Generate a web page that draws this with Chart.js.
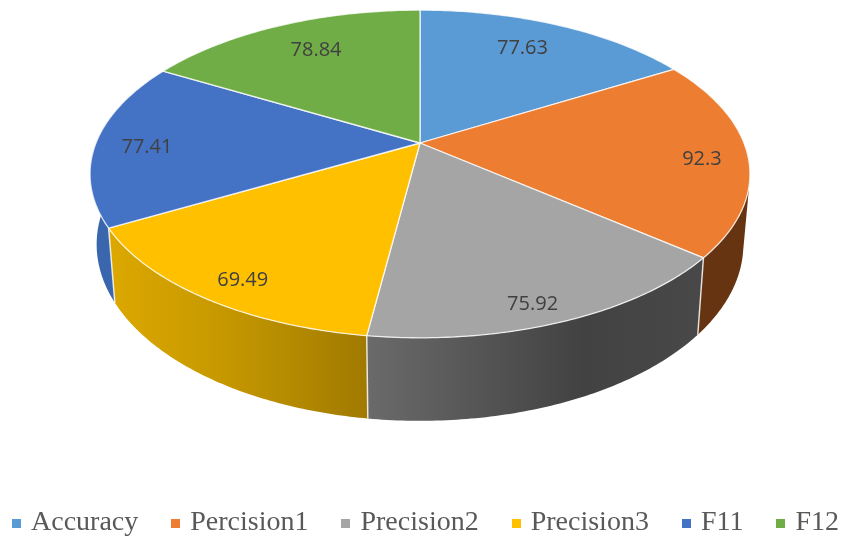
<!DOCTYPE html>
<html>
<head>
<meta charset="utf-8">
<script src="https://cdn.jsdelivr.net/npm/chart.js@4/dist/chart.umd.min.js"></script>
<style>
  html, body { margin: 0; padding: 0; background: #fff; overflow: hidden; }
  /* canvas is a bit bigger than the window so the legend row fits on one line */
  canvas { display: block; margin-left: -40px; }
</style>
</head>
<body>
<canvas id="mycanvas" width="935" height="547"></canvas>
<script>
var categories = ["Accuracy", "Percision1", "Precision2", "Precision3", "F11", "F12"];
var values = [77.63, 92.3, 75.92, 69.49, 77.41, 78.84];
var colors = ["#5b9bd5", "#ed7d31", "#a5a5a5", "#ffc000", "#4472c4", "#70ad47"];

// where each value label sits inside its slice
var labelReach = [0.77, 0.86, 0.90, 0.88, 0.84, 0.76];
var labelTurn = [-2, 1.7, 2.4, -1.9, -1.5, 1.7];

// perspective of the disc
var shiftX = 40;
var apexX = 420 + shiftX, apexY = 143, scaleX = 324, scaleY = 158, tilt = 0.189;

function project(theta, r) {
    var x = Math.sin(theta) * r;
    var y = -Math.cos(theta) * r;
    var w = 1 - tilt * y;
    return { x: scaleX * x / w, y: scaleY * y / w };
}
function topPoint(theta, r) {
    var p = project(theta, r);
    return { x: apexX + p.x, y: apexY + p.y };
}
function bottomPoint(theta) {
    var p = project(theta, 1);
    return { x: apexX + p.x * 0.98, y: apexY + p.y * 1.077 + 68 };
}

function wallStyle(ctx, i) {
    var g;
    if (i == 2) {
        g = ctx.createLinearGradient(368 + shiftX, 0, 697 + shiftX, 0);
        g.addColorStop(0, "#6a6a6a");
        g.addColorStop(0.65, "#424242");
        g.addColorStop(1, "#484848");
        return g;
    }
    if (i == 3) {
        g = ctx.createLinearGradient(110 + shiftX, 0, 368 + shiftX, 0);
        g.addColorStop(0, "#dca800");
        g.addColorStop(0.4, "#c89a00");
        g.addColorStop(1, "#a07a00");
        return g;
    }
    if (i == 1) return "#663410";
    if (i == 4) return "#3a66ad";
    return colors[i];
}

// legend marker: small square, wider than the slot the legend keeps for it
function legendMark(color) {
    var c = document.createElement("canvas");
    c.width = 9;
    c.height = 9;
    var g = c.getContext("2d");
    g.fillStyle = color;
    g.fillRect(0, 0, 9, 9);
    return c;
}

var pie3d = {
    id: "pie3d",
    beforeDatasetsDraw: function(chart) {
        var ctx = chart.ctx;
        var arcs = chart.getDatasetMeta(0).data;
        var wallFrom = 103 * Math.PI / 180;
        var wallTo = 280 * Math.PI / 180;
        var i, k, n = 80;

        // side walls
        for (i = 0; i < arcs.length; i++) {
            var a = Math.max(arcs[i].startAngle + Math.PI / 2, wallFrom);
            var b = Math.min(arcs[i].endAngle + Math.PI / 2, wallTo);
            if (b <= a) continue;
            ctx.beginPath();
            for (k = 0; k <= n; k++) {
                var p = topPoint(a + (b - a) * k / n, 1);
                if (k == 0) ctx.moveTo(p.x, p.y); else ctx.lineTo(p.x, p.y);
            }
            for (k = n; k >= 0; k--) {
                var q = bottomPoint(a + (b - a) * k / n);
                ctx.lineTo(q.x, q.y);
            }
            ctx.closePath();
            ctx.fillStyle = wallStyle(ctx, i);
            ctx.fill();
        }

        // vertical seams between the walls
        ctx.strokeStyle = "rgba(255,255,255,0.8)";
        ctx.lineWidth = 1.5;
        for (i = 0; i < arcs.length; i++) {
            var e = arcs[i].endAngle + Math.PI / 2;
            if (e <= wallFrom || e >= wallTo) continue;
            var t = topPoint(e, 1), u = bottomPoint(e);
            ctx.beginPath();
            ctx.moveTo(t.x, t.y);
            ctx.lineTo(u.x, u.y);
            ctx.stroke();
        }

        // top faces
        for (i = 0; i < arcs.length; i++) {
            var s0 = arcs[i].startAngle + Math.PI / 2;
            var s1 = arcs[i].endAngle + Math.PI / 2;
            ctx.beginPath();
            ctx.moveTo(apexX, apexY);
            for (k = 0; k <= n; k++) {
                var f = topPoint(s0 + (s1 - s0) * k / n, 1);
                ctx.lineTo(f.x, f.y);
            }
            ctx.closePath();
            ctx.fillStyle = colors[i];
            ctx.fill();
            ctx.strokeStyle = "rgba(255,255,255,0.8)";
            ctx.lineWidth = 1.3;
            ctx.lineJoin = "round";
            ctx.stroke();
        }

        // value labels
        ctx.font = "20px 'Open Sans'";
        ctx.fillStyle = "#404040";
        ctx.textAlign = "center";
        ctx.textBaseline = "middle";
        for (i = 0; i < arcs.length; i++) {
            var mid = (arcs[i].startAngle + arcs[i].endAngle) / 2 + Math.PI / 2 + labelTurn[i] * Math.PI / 180;
            var l = topPoint(mid, labelReach[i]);
            ctx.fillText(String(values[i]), l.x, l.y + 1);
        }
        return false;
    }
};

var chartdata = {
    labels: categories,
    datasets: [
        {
            data: values,
            backgroundColor: colors,
            borderWidth: 0
        }
    ]
};

var ctx = document.getElementById("mycanvas");

var GenericGraph = new Chart(ctx, {
    type: "pie",
    data: chartdata,
    plugins: [pie3d],
    options: {
        responsive: false,
        animation: false,
        plugins: {
            tooltip: { enabled: false },
            legend: {
                position: "bottom",
                labels: {
                    usePointStyle: true,
                    pointStyleWidth: 1,
                    boxHeight: 9,
                    padding: 37,
                    color: "#595959",
                    font: { family: "'Liberation Serif'", size: 28 },
                    generateLabels: function(chart) {
                        return categories.map(function(name, i) {
                            return {
                                text: name,
                                index: i,
                                fontColor: "#595959",
                                fillStyle: colors[i],
                                strokeStyle: colors[i],
                                lineWidth: 0,
                                pointStyle: legendMark(colors[i])
                            };
                        });
                    }
                }
            }
        }
    }
});
</script>
</body>
</html>
